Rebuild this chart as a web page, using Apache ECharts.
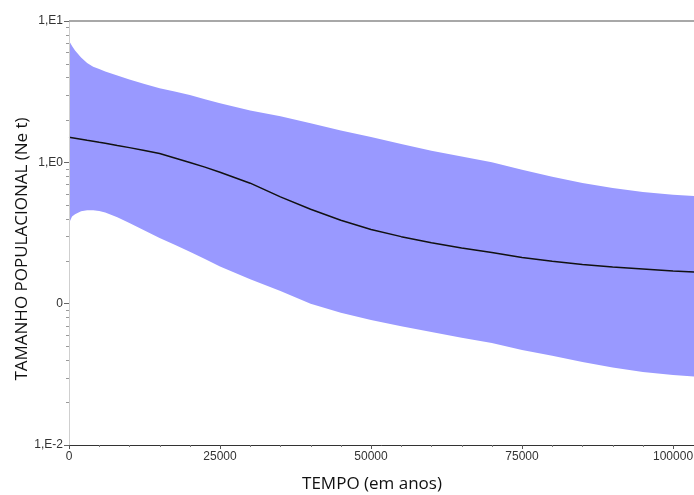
<!DOCTYPE html>
<html>
<head>
<meta charset="utf-8">
<script src="https://cdn.jsdelivr.net/npm/echarts@6/dist/echarts.min.js"></script>
<style>
  html, body { margin: 0; padding: 0; background: #fff; overflow: hidden; }
  #chart { width: 694px; height: 495px; }
</style>
</head>
<body>
<div id="chart"></div>
<script>
// Time before present (years)
const years = [0, 500, 1000, 2000, 3000, 4000, 5000, 6000, 8000, 10000, 12500, 15000,
  17500, 20000, 22500, 25000, 30000, 35000, 40000, 45000, 50000, 55000, 60000,
  65000, 70000, 75000, 80000, 85000, 90000, 95000, 100000, 103800];

// Effective population size: upper 95% HPD, median, lower 95% HPD
const neUpper = [7.25, 6.65, 6.19, 5.51, 5.04, 4.75, 4.57, 4.40, 4.11, 3.86, 3.59, 3.35,
  3.17, 2.99, 2.80, 2.62, 2.33, 2.12, 1.89, 1.68, 1.51, 1.35, 1.21,
  1.10, 1.00, 0.885, 0.790, 0.715, 0.658, 0.617, 0.589, 0.577];
const neMedian = [1.503, 1.491, 1.479, 1.455, 1.431, 1.408, 1.385, 1.365, 1.317, 1.271, 1.212, 1.156,
  1.074, 0.998, 0.925, 0.851, 0.712, 0.570, 0.466, 0.389, 0.335, 0.298, 0.270,
  0.248, 0.230, 0.212, 0.1996, 0.1895, 0.1814, 0.1758, 0.1704, 0.1674];
const neLower = [0.370, 0.4136, 0.4285, 0.4516, 0.4590, 0.4575, 0.4530, 0.4413, 0.4083, 0.3725, 0.3293, 0.2913,
  0.2608, 0.2334, 0.2073, 0.1831, 0.1489, 0.1229, 0.0999, 0.0864, 0.0766, 0.0693, 0.0629,
  0.0575, 0.0526, 0.0471, 0.0428, 0.0387, 0.0354, 0.0328, 0.0313, 0.0304];

// Axis ticks
const xTicks = [0, 25000, 50000, 75000, 100000];
const yDecades = [0.01, 0.1, 1, 10];
const yDecadeLabels = ['1,E-2', '0', '1,E0', '1,E1'];
const yMinor = [];
[0.01, 0.1, 1].forEach(d => { for (let k = 2; k <= 9; k++) yMinor.push(+(d * k).toPrecision(3)); });

const chart = echarts.init(document.getElementById('chart'), null, { renderer: 'canvas' });

chart.setOption({
  animation: false,
  backgroundColor: '#fff',
  grid: { left: 69, right: -2, top: 21, bottom: 50, containLabel: false, outerBoundsMode: 'none' },
  xAxis: {
    type: 'value', min: 0, max: 103800, position: 'bottom', z: 10,
    axisLine: { show: true, onZero: false, lineStyle: { color: '#333', width: 1 } },
    axisTick: { show: true, length: 4, customValues: xTicks, lineStyle: { color: '#555' } },
    axisLabel: { margin: 6, color: '#333', fontSize: 12, fontFamily: 'Liberation Sans, Arial, sans-serif',
      customValues: xTicks, formatter: v => String(v) },
    splitLine: { show: false }
  },
  yAxis: {
    type: 'log', logBase: 10, min: 0.01, max: 10, position: 'left', z: 10,
    axisLine: { show: true, onZero: false, lineStyle: { color: '#cfcfcf', width: 1 } },
    axisTick: { show: true, length: 5, customValues: yDecades, lineStyle: { color: '#666' } },
    axisLabel: {
      margin: 6, color: '#333', fontSize: 12, fontFamily: 'Liberation Sans, Arial, sans-serif',
      customValues: yDecades,
      formatter: v => {
        const i = yDecades.findIndex(d => Math.abs(Math.log10(d) - Math.log10(v)) < 1e-6);
        return i >= 0 ? yDecadeLabels[i] : '';
      }
    },
    splitLine: { show: false }
  },
  series: [
    {
      // 95% HPD band as one filled polygon between the upper and lower bounds
      name: 'HPD 95%', type: 'custom', z: 1,
      data: years.map((t, i) => [t, neUpper[i], neLower[i]]),
      encode: { x: 0, y: [1, 2] },
      renderItem: (params, api) => {
        if (params.dataIndex !== 0) return null;
        const pts = [];
        years.forEach((t, i) => pts.push(api.coord([t, neUpper[i]])));
        for (let i = years.length - 1; i >= 0; i--) pts.push(api.coord([years[i], neLower[i]]));
        return { type: 'polygon', shape: { points: pts }, style: { fill: '#9999ff' } };
      }
    },
    {
      name: 'median', type: 'line', data: years.map((t, i) => [t, neMedian[i]]),
      smooth: false, symbol: 'none', lineStyle: { width: 1.5, color: '#111' }, z: 3
    }
  ]
});

// Frame line, axis titles and minor ticks placed from the grid's pixel mapping
(function decorate() {
  const els = [];
  const x0 = chart.convertToPixel({ xAxisIndex: 0 }, 0);
  const x1 = chart.convertToPixel({ xAxisIndex: 0 }, 103800);
  const yTop = chart.convertToPixel({ yAxisIndex: 0 }, 10);
  const yBot = chart.convertToPixel({ yAxisIndex: 0 }, 0.01);
  els.push({ type: 'line', z: 20, silent: true,
    shape: { x1: x0, y1: yTop, x2: x1, y2: yTop }, style: { stroke: '#a8a8a8', lineWidth: 2 } });
  yMinor.forEach(v => {
    const p = Math.round(chart.convertToPixel({ yAxisIndex: 0 }, v)) + 0.5;
    els.push({ type: 'line', z: 20, silent: true,
      shape: { x1: x0 - 3, y1: p, x2: x0, y2: p }, style: { stroke: '#999', lineWidth: 1 } });
  });
  for (let t = 5000; t <= 103800; t += 5000) {
    if (t % 25000 === 0) continue;
    const p = Math.round(chart.convertToPixel({ xAxisIndex: 0 }, t)) + 0.5;
    els.push({ type: 'line', z: 20, silent: true,
      shape: { x1: p, y1: yBot, x2: p, y2: yBot + 2 }, style: { stroke: '#777', lineWidth: 1 } });
  }
  els.push({
    type: 'text', x: 22, y: 249, rotation: Math.PI / 2,
    style: {
      text: 'TAMANHO POPULACIONAL (Ne t)', fill: '#111', fontSize: 17,
      fontFamily: 'Open Sans, Noto Sans, sans-serif', align: 'center', verticalAlign: 'middle'
    }
  });
  els.push({
    type: 'text', x: 372, y: 484,
    style: {
      text: 'TEMPO (em anos)', fill: '#111', fontSize: 17,
      fontFamily: 'Open Sans, Noto Sans, sans-serif', align: 'center', verticalAlign: 'middle'
    }
  });
  chart.setOption({ graphic: els });
})();
</script>
</body>
</html>
